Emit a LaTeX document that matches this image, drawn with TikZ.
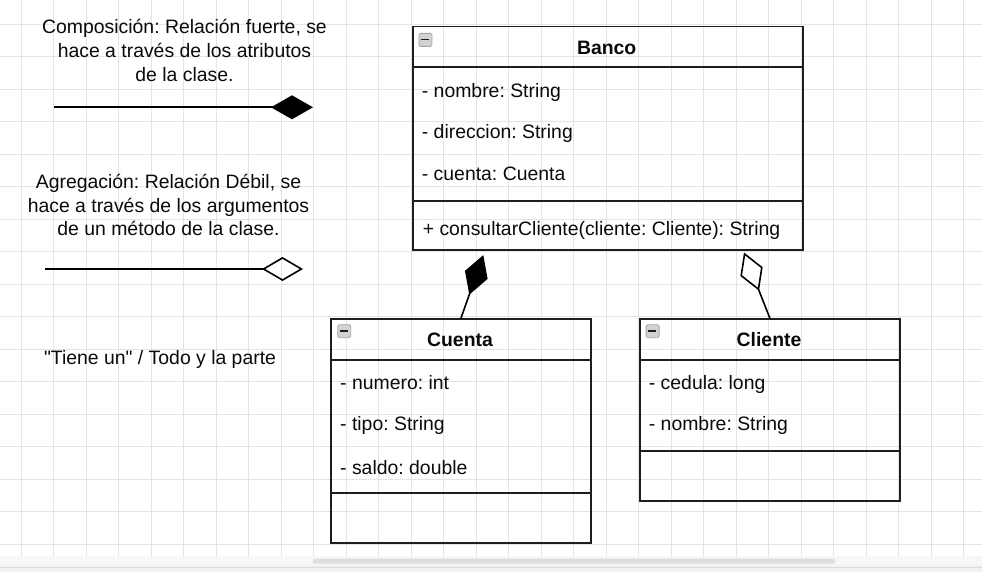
\documentclass[tikz,border=0pt]{standalone}
\usepackage{fontspec}
\setmainfont{Liberation Sans}
\newfontfamily\qfont{Liberation Sans}
\usetikzlibrary{arrows.meta,calc}
\definecolor{gridc}{HTML}{E4E4E4}
\definecolor{boxc}{HTML}{1E1E1E}
\definecolor{txtc}{HTML}{0A0A0A}
\frenchspacing
\begin{document}
\begin{tikzpicture}[x=1pt,y=-1pt,
  gridline/.style={draw=gridc,line width=0.8pt},
  txt/.style={inner sep=0pt,anchor=base west,text=txtc,font=\fontsize{19.4}{24.3}\selectfont\frenchspacing},
  ctxt/.style={inner sep=0pt,anchor=base,text=txtc,font=\fontsize{19.4}{24.3}\selectfont\frenchspacing},
  ttl/.style={inner sep=0pt,anchor=base,text=txtc,font=\fontsize{19.4}{24.3}\selectfont\bfseries},
  classbox/.style={draw=boxc,line width=1.8pt,inner sep=0pt,anchor=north west},
  divider/.style={draw=boxc,line width=1.8pt},
  collapse/.style={draw=gray!70,fill=gray!35,rounded corners=1.5pt,line width=0.8pt,inner sep=0pt,minimum size=13pt,anchor=north west},
  compo/.style={draw=black,line width=1.6pt,-{Diamond[length=42pt,width=24pt,fill=black]}},
  aggre/.style={draw=black,line width=1.6pt,-{Diamond[open,length=41pt,width=24pt]}}
]
\useasboundingbox (0,0) rectangle (982,572);
\fill[white] (0,0) rectangle (982,572);
% grid
\foreach \i in {0,...,29} \draw[gridline] ({21+32.5*\i},0) -- ({21+32.5*\i},556);
\foreach \j in {0,...,16} \draw[gridline] (0,{24+32.5*\j}) -- (982,{24+32.5*\j});
% bottom band and scrollbar
\fill[white!97!black] (0,556) rectangle (982,565);
\fill[white!95!black] (0,565) rectangle (982,572);
\draw[white!86!black,line width=0.8pt] (0,567.3) -- (982,567.3);
\fill[white!87!black,rounded corners=2.5pt] (312.6,558.7) rectangle (835.5,563.7);

% legend: composition
\node[ctxt] (c1) at (184.5,33.3) {Composición: Relación fuerte, se};
\node[ctxt] (c2) at (184.5,57.5) {hace a través de los atributos};
\node[ctxt] (c3) at (184.5,81.7) {de la clase.};
\coordinate (cl0) at (54,107.3);
\coordinate (cl1) at (313,107.3);
\draw[compo] (cl0) -- (cl1);
% legend: aggregation
\node[ctxt] (a1) at (168.5,188.3) {Agregación: Relación Débil, se};
\node[ctxt] (a2) at (168.5,212.3) {hace a través de los argumentos};
\node[ctxt] (a3) at (168.5,236) {de un método de la clase.};
\coordinate (al0) at (45,269);
\coordinate (al1) at (303,269);
\draw[aggre] (al0) -- (al1);
% legend: has-a
\node[ctxt] (tiene) at (160,364) {\qfont "Tiene un" / Todo y la parte};

% Banco
\node[classbox,minimum width=390pt,minimum height=223.6pt] (banco) at (411.7,25.7) {};
\draw[divider] (411.7,67.3) -- (801.7,67.3);
\draw[divider] (411.7,201) -- (801.7,201);
\node[collapse] (bico) at (418.5,33) {};
\draw[boxc,line width=1.8pt] (421,39.5) -- (429,39.5);
\node[ttl] (bt) at (606.7,54.3) {Banco};
\node[txt] (b1) at (421.7,97.3) {- nombre: String};
\node[txt] (b2) at (421.7,139) {- direccion: String};
\node[txt] (b3) at (421.7,180.7) {- cuenta: Cuenta};
\node[txt] (b4) at (422.6,236) {+ consultarCliente(cliente: Cliente): String};

% Cuenta
\node[classbox,minimum width=260pt,minimum height=223.7pt] (cuenta) at (330,318.3) {};
\draw[divider] (330,360) -- (590,360);
\draw[divider] (330,493) -- (590,493);
\node[collapse] (cuico) at (337.3,324.3) {};
\draw[boxc,line width=1.8pt] (339.8,330.8) -- (347.8,330.8);
\node[ttl] (cut) at (460,346.7) {Cuenta};
\node[txt] (cu1) at (340,389) {- numero: int};
\node[txt] (cu2) at (340,430.7) {- tipo: String};
\node[txt] (cu3) at (340,474) {- saldo: double};

% Cliente
\node[classbox,minimum width=260pt,minimum height=181.7pt] (cliente) at (639,318.3) {};
\draw[divider] (639,360) -- (899,360);
\draw[divider] (639,451) -- (899,451);
\node[collapse] (clico) at (645.7,324.3) {};
\draw[boxc,line width=1.8pt] (648.2,330.8) -- (656.2,330.8);
\node[ttl] (clt) at (769,346.7) {Cliente};
\node[txt] (cl1n) at (648.7,389) {- cedula: long};
\node[txt] (cl2n) at (648.7,430.7) {- nombre: String};

% connectors
\coordinate (bcomp) at ($(banco.south west)+(71.6,4)$);
\coordinate (bagg) at ($(banco.south west)+(332.3,1.4)$);
\draw[compo] (cuenta.north) -- (bcomp);
\draw[aggre] (cliente.north) -- (bagg);
\end{tikzpicture}
\end{document}
